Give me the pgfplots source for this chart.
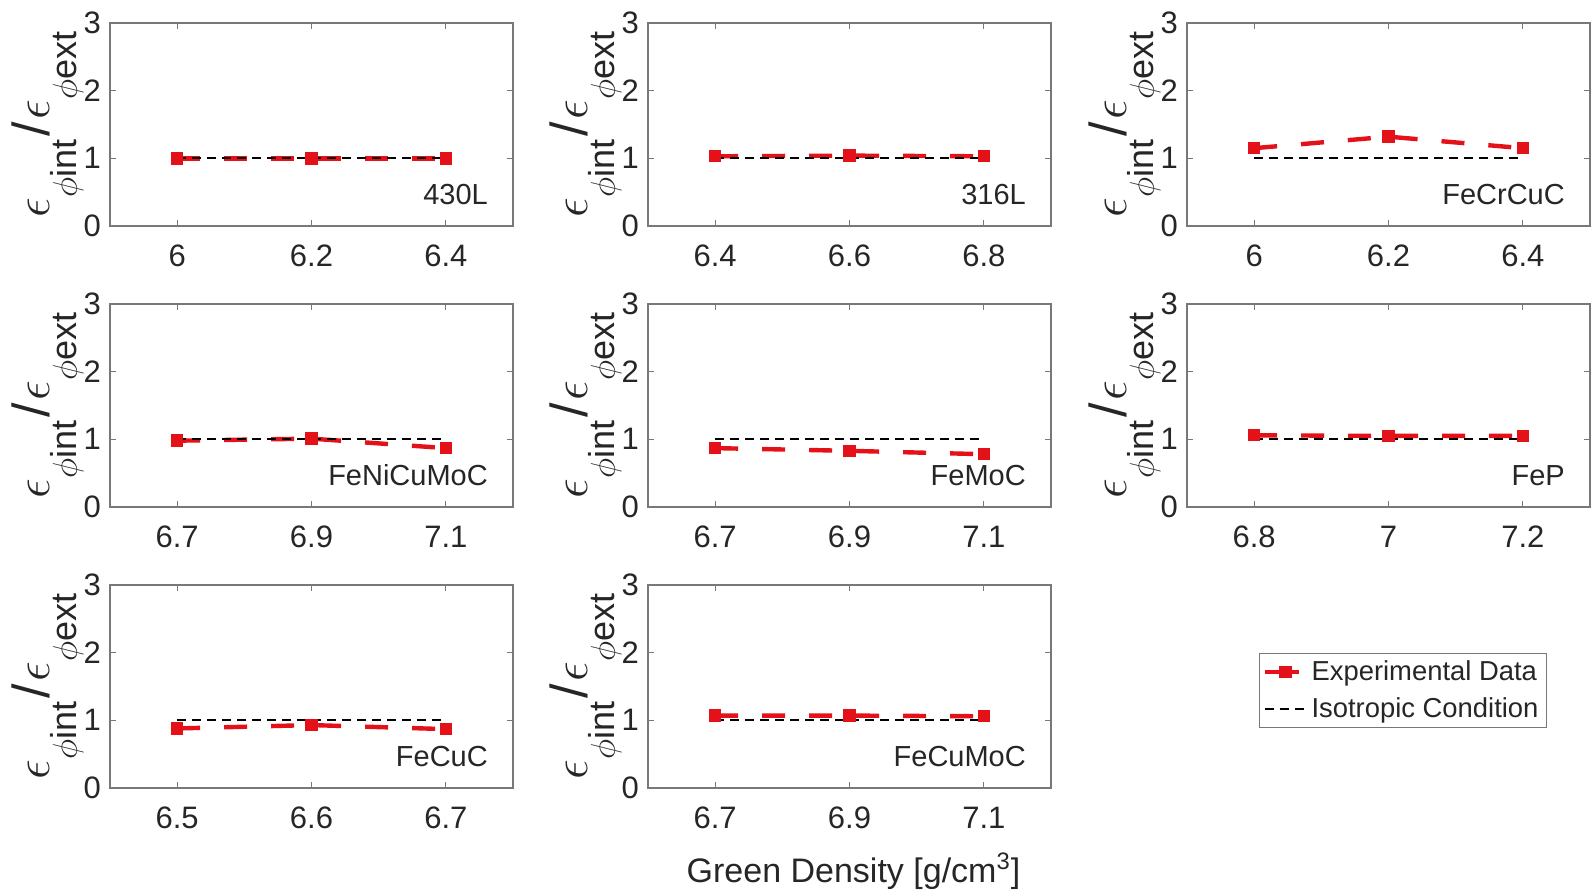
\documentclass[border=0pt]{standalone}
\usepackage{amsmath}
\usepackage{fontspec}
\setmainfont{Liberation Sans}
\usepackage{pgfplots}
\pgfplotsset{compat=1.18}

\definecolor{axisgray}{RGB}{120,120,120}
\definecolor{labelgray}{RGB}{38,38,38}
\definecolor{expred}{RGB}{228,18,24}

\tikzset{tag/.style={anchor=base east, font=\fontsize{14.5}{17}\selectfont, text=labelgray}}

% strain-ratio label: large epsilon and slash, subscripts dropped well below the baseline
\newcommand{\lowsub}[1]{\raisebox{-13.5pt}{\fontsize{18}{18}\selectfont$\phi$#1}}
\newcommand{\ratiolabel}{{\fontsize{24}{24}\selectfont$\epsilon$\lowsub{int}\kern1.5pt{\fontsize{26}{26}\selectfont/}\kern1.5pt$\epsilon$\lowsub{ext}}}

\pgfplotsset{
  panel/.style={
    scale only axis, width=201.5pt, height=101.5pt,
    anchor=south west,
    ymin=0, ymax=3, ytick={0,1,2,3}, yticklabels={0,1,2,3},
    axis line style={draw=axisgray, line width=0.8pt},
    tick style={draw=axisgray, line width=0.6pt},
    tick align=inside, major tick length=3pt,
    ticklabel style={font=\fontsize{15.5}{18}\selectfont, text=labelgray},
    xticklabel style={yshift=-6pt},
    yticklabel style={xshift=-1pt},
    ylabel={\ratiolabel},
    ylabel style={at={(axis description cs:-0.149,0.5)}, anchor=base, text=labelgray},
    legend image code/.code={\draw[mark repeat=2,mark phase=2,##1] plot coordinates {(0pt,0pt) (10pt,0pt) (20pt,0pt)};},
  },
  exp/.style={draw=expred, line width=2.2pt, dash pattern=on 11.5pt off 12pt,
    mark=square*, mark size=2.7pt,
    mark options={solid, fill=expred, draw=expred, line width=0.8pt}},
  iso/.style={draw=black, line width=1.1pt, dash pattern=on 4.5pt off 3pt, mark=none},
}

\begin{document}
\begin{tikzpicture}
\useasboundingbox (0,0) rectangle (795.5pt,447.5pt);

% Row 1
\begin{axis}[panel, at={(55pt,334.5pt)}, xmin=5.9, xmax=6.5,
  xtick={6,6.2,6.4}, xticklabels={6,6.2,6.4}]
  \addplot[exp] coordinates {(6,1.00) (6.2,1.00) (6.4,1.00)};
  \addplot[iso] coordinates {(6,1) (6.4,1)};
  \node[tag] at (rel axis cs:0.955,0.105) {430L};
\end{axis}

\begin{axis}[panel, at={(324pt,334.5pt)}, xmin=6.3, xmax=6.9,
  xtick={6.4,6.6,6.8}, xticklabels={6.4,6.6,6.8}]
  \addplot[exp] coordinates {(6.4,1.03) (6.6,1.04) (6.8,1.03)};
  \addplot[iso] coordinates {(6.4,1) (6.8,1)};
  \node[tag] at (rel axis cs:0.955,0.105) {316L};
\end{axis}

\begin{axis}[panel, at={(593.5pt,334.5pt)}, xmin=5.9, xmax=6.5,
  xtick={6,6.2,6.4}, xticklabels={6,6.2,6.4}]
  \addplot[exp] coordinates {(6,1.15) (6.2,1.32) (6.4,1.15)};
  \addplot[iso] coordinates {(6,1) (6.4,1)};
  \node[tag] at (rel axis cs:0.955,0.105) {FeCrCuC};
\end{axis}

% Row 2
\begin{axis}[panel, at={(55pt,194pt)}, xmin=6.6, xmax=7.2,
  xtick={6.7,6.9,7.1}, xticklabels={6.7,6.9,7.1}]
  \addplot[exp] coordinates {(6.7,0.98) (6.9,1.01) (7.1,0.87)};
  \addplot[iso] coordinates {(6.7,1) (7.1,1)};
  \node[tag] at (rel axis cs:0.955,0.105) {FeNiCuMoC};
\end{axis}

\begin{axis}[panel, at={(324pt,194pt)}, xmin=6.6, xmax=7.2,
  xtick={6.7,6.9,7.1}, xticklabels={6.7,6.9,7.1}]
  \addplot[exp] coordinates {(6.7,0.87) (6.9,0.83) (7.1,0.78)};
  \addplot[iso] coordinates {(6.7,1) (7.1,1)};
  \node[tag] at (rel axis cs:0.955,0.105) {FeMoC};
\end{axis}

\begin{axis}[panel, at={(593.5pt,194pt)}, xmin=6.7, xmax=7.3,
  xtick={6.8,7,7.2}, xticklabels={6.8,7,7.2}]
  \addplot[exp] coordinates {(6.8,1.06) (7.0,1.05) (7.2,1.05)};
  \addplot[iso] coordinates {(6.8,1) (7.2,1)};
  \node[tag] at (rel axis cs:0.955,0.105) {FeP};
\end{axis}

% Row 3
\begin{axis}[panel, at={(55pt,53.5pt)}, xmin=6.45, xmax=6.75,
  xtick={6.5,6.6,6.7}, xticklabels={6.5,6.6,6.7}]
  \addplot[exp] coordinates {(6.5,0.88) (6.6,0.93) (6.7,0.87)};
  \addplot[iso] coordinates {(6.5,1) (6.7,1)};
  \node[tag] at (rel axis cs:0.955,0.105) {FeCuC};
\end{axis}

\begin{axis}[panel, at={(324pt,53.5pt)}, xmin=6.6, xmax=7.2,
  xtick={6.7,6.9,7.1}, xticklabels={6.7,6.9,7.1},
  xlabel={Green Density [g/cm\textsuperscript{3}]},
  xlabel style={at={(axis description cs:0.5,0)}, anchor=base, yshift=-47pt, xshift=2pt,
    font=\fontsize{17}{20}\selectfont, text=labelgray},
  legend style={at={(2.231,0.665)}, anchor=north east, draw=axisgray, fill=white,
    line width=0.6pt, font=\fontsize{13.7}{16}\selectfont, text=labelgray,
    inner xsep=2pt, inner ysep=1.5pt, row sep=3pt},
  legend cell align=left]
  \addplot[exp, legend image post style={dash pattern=on 7pt off 3pt}]
    coordinates {(6.7,1.07) (6.9,1.07) (7.1,1.06)};
  \addlegendentry{Experimental Data}
  \addplot[iso] coordinates {(6.7,1) (7.1,1)};
  \addlegendentry{Isotropic Condition}
  \node[tag] at (rel axis cs:0.955,0.105) {FeCuMoC};
\end{axis}
\end{tikzpicture}
\end{document}
